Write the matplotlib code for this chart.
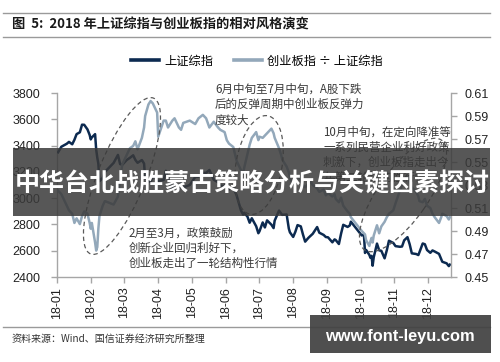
import matplotlib
matplotlib.use("Agg")
import matplotlib.pyplot as plt
import pandas as pd
import numpy as np
from matplotlib.patches import Ellipse, Rectangle
from matplotlib.transforms import IdentityTransform
from matplotlib.lines import Line2D
from matplotlib.ticker import FormatStrFormatter

# ---------------- data ----------------
dates = ["2018-01-02","2018-01-05","2018-01-10","2018-01-12","2018-01-15","2018-01-17","2018-01-19","2018-01-22","2018-01-24","2018-01-26","2018-01-29","2018-01-31",
         "2018-02-01","2018-02-02","2018-02-05","2018-02-06","2018-02-07","2018-02-08","2018-02-09","2018-02-12","2018-02-14","2018-02-22","2018-02-26","2018-02-28",
         "2018-03-02","2018-03-06","2018-03-09","2018-03-12","2018-03-14","2018-03-16","2018-03-20","2018-03-22","2018-03-23","2018-03-26","2018-03-28","2018-03-30",
         "2018-04-03","2018-04-04","2018-04-09","2018-04-11","2018-04-13","2018-04-17","2018-04-19","2018-04-23","2018-04-25","2018-04-27",
         "2018-05-03","2018-05-08","2018-05-11","2018-05-15","2018-05-18","2018-05-21","2018-05-25","2018-05-29","2018-05-31",
         "2018-06-04","2018-06-06","2018-06-08","2018-06-12","2018-06-15","2018-06-19","2018-06-21","2018-06-22","2018-06-25","2018-06-27","2018-06-29",
         "2018-07-03","2018-07-05","2018-07-06","2018-07-09","2018-07-11","2018-07-13","2018-07-17","2018-07-19","2018-07-20","2018-07-24","2018-07-26","2018-07-27","2018-07-31",
         "2018-08-02","2018-08-03","2018-08-06","2018-08-08","2018-08-10","2018-08-13","2018-08-15","2018-08-17","2018-08-20","2018-08-22","2018-08-24","2018-08-28","2018-08-30",
         "2018-09-03","2018-09-05","2018-09-07","2018-09-11","2018-09-13","2018-09-14","2018-09-17","2018-09-19","2018-09-21","2018-09-25","2018-09-27","2018-09-28",
         "2018-10-08","2018-10-10","2018-10-11","2018-10-12","2018-10-15","2018-10-16","2018-10-17","2018-10-18","2018-10-19","2018-10-22","2018-10-24","2018-10-26","2018-10-29","2018-10-31",
         "2018-11-02","2018-11-06","2018-11-08","2018-11-12","2018-11-14","2018-11-16","2018-11-19","2018-11-21","2018-11-23","2018-11-27","2018-11-29","2018-11-30",
         "2018-12-03","2018-12-05","2018-12-07","2018-12-10","2018-12-12","2018-12-14","2018-12-18","2018-12-20","2018-12-21","2018-12-25","2018-12-27","2018-12-28"]

shanghai = [3349,3391,3414,3428,3410,3444,3487,3501,3559,3558,3523,3481,
            3447,3462,3487,3370,3309,3262,3129,3154,3199,3268,3329,3259,
            3254,3290,3307,3326,3291,3269,3290,3263,3153,3133,3122,3169,
            3136,3131,3138,3208,3159,3067,3117,3068,3117,3082,
            3100,3161,3163,3192,3193,3214,3141,3120,3095,
            3091,3115,3067,3080,3022,2907,2875,2889,2859,2813,2847,
            2786,2733,2747,2815,2777,2831,2798,2772,2829,2905,2882,2873,2876,
            2768,2740,2705,2744,2795,2785,2723,2669,2698,2714,2729,2780,2737,
            2720,2704,2702,2664,2686,2682,2651,2730,2797,2781,2792,2821,
            2716,2725,2583,2606,2568,2546,2561,2486,2550,2654,2603,2599,2542,2603,
            2676,2659,2635,2630,2632,2679,2703,2650,2580,2575,2567,2588,
            2655,2649,2605,2584,2602,2594,2576,2536,2516,2504,2483,2494]

ratio = [0.525,0.522,0.512,0.508,0.505,0.497,0.501,0.496,0.503,0.507,0.505,0.497,
         0.492,0.497,0.480,0.473,0.476,0.492,0.503,0.512,0.516,0.513,0.520,0.535,
         0.548,0.556,0.562,0.564,0.568,0.561,0.571,0.580,0.590,0.600,0.603,0.601,
         0.593,0.572,0.586,0.586,0.580,0.586,0.588,0.580,0.578,0.584,
         0.586,0.583,0.588,0.591,0.588,0.580,0.585,0.580,0.578,
         0.576,0.569,0.566,0.563,0.551,0.543,0.540,0.545,0.557,0.565,0.571,
         0.576,0.569,0.572,0.571,0.573,0.575,0.579,0.575,0.571,0.562,0.556,0.552,0.546,
         0.541,0.536,0.530,0.535,0.538,0.534,0.530,0.528,0.531,0.533,0.530,0.527,0.524,
         0.526,0.521,0.523,0.520,0.522,0.518,0.515,0.519,0.512,0.507,0.505,0.502,
         0.490,0.488,0.487,0.482,0.477,0.481,0.484,0.480,0.486,0.495,0.488,0.494,0.498,0.502,
         0.505,0.508,0.514,0.525,0.530,0.535,0.538,0.532,0.528,0.524,0.520,0.516,
         0.515,0.518,0.512,0.510,0.505,0.502,0.497,0.502,0.505,0.503,0.500,0.502]

series_names = ["上证综指", "创业板指 ÷ 上证综指"]
title = "图  5:  2018 年上证综指与创业板指的相对风格演变"
source = "资料来源：Wind、国信证券经济研究所整理"
note_a = ["6月中旬至7月中旬，A股下跌", "后的反弹周期中创业板反弹力", "度较大"]
note_b = ["10月中旬，在定向降准等", "一系列民营企业利好政策", "刺激下，创业板指走出今", "年第二轮结构性行情"]
note_c = ["2月至3月，政策鼓励", "创新企业回归利好下，", "创业板走出了一轮结构性行情"]
banner = "中华台北战胜蒙古策略分析与关键因素探讨"
watermark = "www.font-leyu.com"

# ---------------- style ----------------
NAVY = "#0c2a50"
GREY = "#93a8ba"
SPINE = "#a6a6a6"
CJK = ["Noto Sans CJK SC", "DejaVu Sans"]
LAT = ["Liberation Sans", "DejaVu Sans"]

W, H = 500, 362
fig = plt.figure(figsize=(W / 100, H / 100), dpi=100)
fig.patch.set_facecolor("white")

def fx(x):
    return x / W

def fy(y):
    return 1 - y / H

ax = fig.add_axes([fx(57), fy(277), (451 - 57) / W, (277 - 93) / H])
ax2 = ax.twinx()

x = pd.to_datetime(dates)
ax.plot(x, shanghai, color=NAVY, lw=1.8, zorder=3)
ax2.plot(x, ratio, color=GREY, lw=1.8, zorder=3)

xstart = pd.Timestamp("2018-01-01")
xend = pd.Timestamp("2018-12-29")
ax.set_xlim(xstart, xend)
ticks = pd.date_range(xstart, xend, freq="31D")
ax.set_xticks(ticks)
ax.set_xticklabels([t.strftime("%y-%m") for t in ticks], rotation=90,
                   fontsize=9, family=LAT, color="#222222")

ax.set_ylim(2400, 3800)
ax.set_yticks(np.arange(2400, 3801, 200))
ax2.set_ylim(0.45, 0.61)
ax2.set_yticks(np.arange(0.45, 0.6101, 0.02))
ax2.yaxis.set_major_formatter(FormatStrFormatter("%.2f"))

for a in (ax, ax2):
    a.spines["top"].set_visible(False)
    for s in a.spines.values():
        s.set_color(SPINE)
        s.set_linewidth(1.0)
    for lab in a.get_yticklabels():
        lab.set_family(LAT)
ax.spines["right"].set_visible(False)
ax2.spines["left"].set_visible(False)
ax2.spines["bottom"].set_visible(False)

ax.tick_params(axis="y", direction="out", length=4, width=1, color=SPINE,
               labelsize=9, labelcolor="#222222", pad=8)
ax.tick_params(axis="x", direction="out", length=4, width=1, color=SPINE, pad=3)
ax2.tick_params(axis="y", direction="out", length=4, width=1, color=SPINE,
                labelsize=9, labelcolor="#222222", pad=6)

# legend
handles = [Line2D([], [], color=NAVY, lw=2.6), Line2D([], [], color=GREY, lw=2.6)]
fig.legend(handles, series_names, loc="center", bbox_to_anchor=(fx(257), fy(61)),
           ncol=2, frameon=False, handlelength=2.3, handletextpad=0.4,
           columnspacing=1.7, prop={"family": CJK, "size": 8.8})

# title, rules, source
fig.text(fx(12), fy(25), title, fontsize=9.5, fontweight="bold", family=CJK,
         color="#1a1a1a", va="center", ha="left")
for yy in (13, 37, 327):
    fig.add_artist(Line2D([fx(3), fx(490)], [fy(yy), fy(yy)], color="#9a9a9a", lw=1.0))
fig.text(fx(12), fy(339), source, fontsize=7.2, family=CJK, color="#333333",
         va="center", ha="left")

# annotations
def lines_at(xp, y0, step, lines):
    for i, s in enumerate(lines):
        fig.text(fx(xp), fy(y0 + i * step), s, fontsize=8.3, family=CJK,
                 color="#3a3a3a", va="center", ha="left", zorder=5)

lines_at(215, 89, 15.5, note_a)
lines_at(323, 132, 15, note_b)
lines_at(129, 233, 15, note_c)

# dashed ellipses (pixel coordinates)
for cx, cy, w, h, ang in [(122, 176, 168, 48, 68), (259, 165, 100, 46, 80), (403, 195, 134, 50, 55)]:
    e = Ellipse((cx, H - cy), w, h, angle=ang, transform=IdentityTransform(),
                fill=False, edgecolor="#5a5a5a", lw=0.9, linestyle=(0, (3.5, 2.5)), zorder=4)
    fig.add_artist(e)

# overlay banner
fig.add_artist(Rectangle((fx(13), fy(216)), (490 - 13) / W, (216 - 148) / H,
                         transform=fig.transFigure, facecolor="#3a3a3a", alpha=0.85,
                         edgecolor="none", zorder=20))
fig.text(fx(252), fy(184), banner, fontsize=18, fontweight="bold", family=CJK,
         color="white", ha="center", va="center", zorder=21)

# watermark box
fig.add_artist(Rectangle((fx(310), fy(353)), (491 - 310) / W, (353 - 315) / H,
                         transform=fig.transFigure, facecolor="#404040", alpha=0.92,
                         edgecolor="none", zorder=20))
fig.text(fx(400), fy(336), watermark, fontsize=11.8, fontweight="bold", family=LAT,
         color="white", ha="center", va="center", zorder=21)

fig.savefig("out.png", dpi=100)
